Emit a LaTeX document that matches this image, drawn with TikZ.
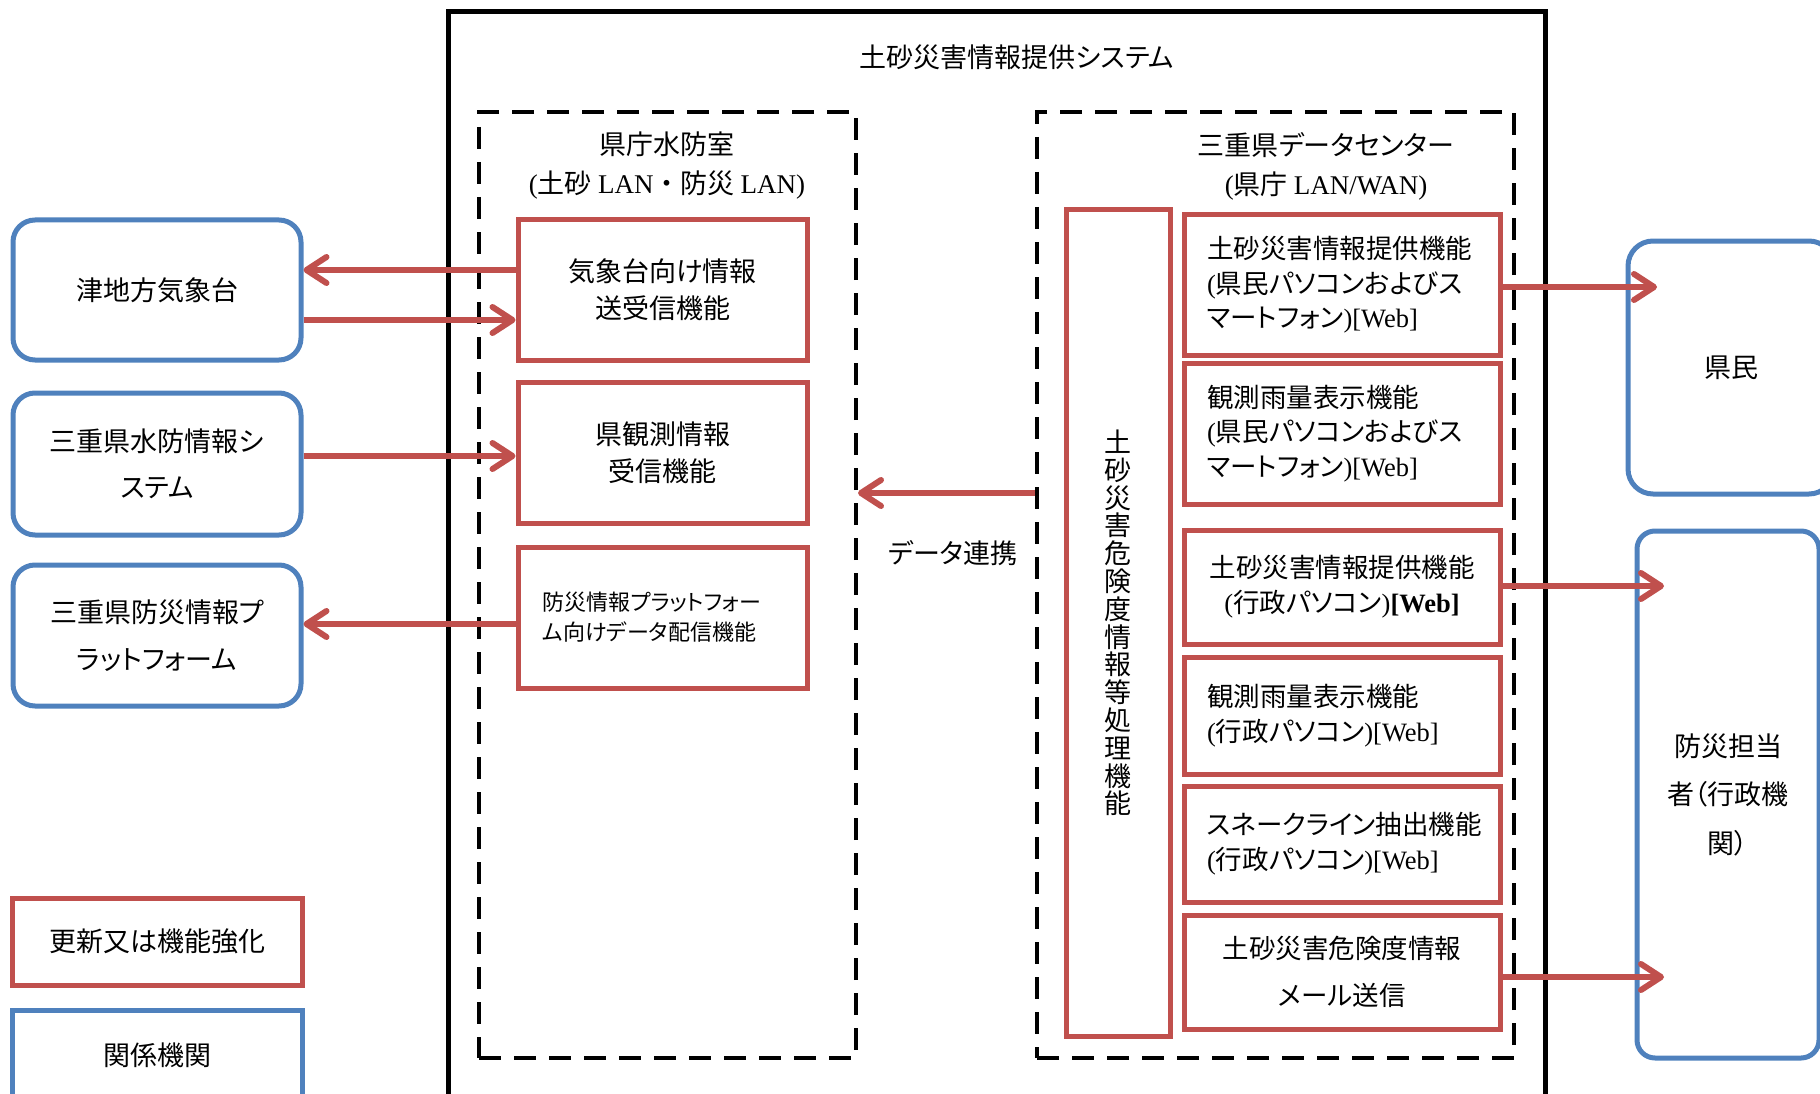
\documentclass[tikz,border=0pt]{standalone}
\usepackage{fontspec}
\setmainfont{Noto Sans CJK JP}[RawFeature=+palt]
\newfontfamily\jpn{Noto Sans CJK JP}
\newfontfamily\lt{Liberation Serif}
\usetikzlibrary{arrows.meta}
\definecolor{myred}{HTML}{C0504D}
\definecolor{myblue}{HTML}{4F81BD}
\newcommand\fsz[2]{\fontsize{#1}{#2}\selectfont}
\newcommand\lat[1]{{\lt #1}}
\begin{document}
\begin{tikzpicture}[x=1pt,y=-1pt,
  redbox/.style={draw=myred, line width=5pt, inner sep=0pt},
  bluebox/.style={draw=myblue, line width=5pt, inner sep=0pt, rounded corners=22pt},
  dbox/.style={draw=black, line width=4pt, dash pattern=on 22pt off 13pt, inner sep=0pt},
  arr/.style={draw=myred, line width=6pt, -{Straight Barb[length=20pt,width=26pt,round]}},
  txt/.style={font=\fsz{27}{37}, align=center},
]
\path[use as bounding box] (0,0) rectangle (1820,1094);
\clip (0,0) rectangle (1820,1094);

% outer system box
\node[draw=black, line width=5pt, inner sep=0pt, minimum width=1097pt, minimum height=1108pt] (sys) at (996.5,566) {};
\node[txt] (systitle) at (1017,57) {土砂災害情報提供システム};

% dashed containers
\node[dbox, minimum width=377pt, minimum height=946pt] (ld) at (667.5,585) {};
\node[txt, font=\fsz{27}{39}] (ldtitle) at (667,166) {県庁水防室\\\lat{(}土砂 \lat{LAN}{\jpn ・}防災 \lat{LAN)}};
\node[dbox, minimum width=477pt, minimum height=946pt] (rd) at (1275.5,585) {};
\node[txt, font=\fsz{27}{39}] (rdtitle) at (1326,166) {三重県データセンター\\\lat{(}県庁 \lat{LAN/WAN)}};

% left red boxes
\node[redbox, txt, minimum width=289pt, minimum height=140pt] (rb1) at (662.5,290) {気象台向け情報\\送受信機能};
\node[redbox, txt, minimum width=289pt, minimum height=141pt] (rb2) at (662.5,452.5) {県観測情報\\受信機能};
\node[redbox, minimum width=289pt, minimum height=141pt, font=\fsz{22}{30}, align=left, text width=240pt] (rb3) at (662.5,617.5) {防災情報プラットフォー\\ム向けデータ配信機能};

% left blue boxes
\node[bluebox, txt, minimum width=288pt, minimum height=140pt] (bl1) at (157,290) {津地方気象台};
\node[bluebox, txt, font=\fsz{27}{46}, minimum width=288pt, minimum height=142pt] (bl2) at (157,464) {三重県水防情報シ\\ステム};
\node[bluebox, txt, font=\fsz{27}{47}, minimum width=288pt, minimum height=141pt] (bl3) at (157,635.5) {三重県防災情報プ\\ラットフォーム};

% legend
\node[redbox, txt, minimum width=290pt, minimum height=87pt] (leg1) at (157,941.5) {更新又は機能強化};
\node[draw=myblue, line width=5pt, inner sep=0pt, txt, minimum width=290pt, minimum height=90pt] (leg2) at (157,1055) {関係機関};

% vertical processing box
\node[redbox, minimum width=104pt, minimum height=826pt] (vbox) at (1118,623) {};
\node[font=\fsz{27}{27.8}, align=center] (vtxt) at (vbox.center) {土\\砂\\災\\害\\危\\険\\度\\情\\報\\等\\処\\理\\機\\能};

% right red boxes
\node[redbox, font=\fsz{26.5}{34.5}, align=left, text width=270pt, minimum width=316pt, minimum height=140pt] (r1) at (1342,285) {土砂災害情報提供機能\\\lat{(}県民パソコンおよびス\\マートフォン\lat{)[Web]}};
\node[redbox, font=\fsz{26.5}{34.5}, align=left, text width=270pt, minimum width=316pt, minimum height=141pt] (r2) at (1342,433.5) {観測雨量表示機能\\\lat{(}県民パソコンおよびス\\マートフォン\lat{)[Web]}};
\node[redbox, font=\fsz{26.5}{35}, align=center, minimum width=316pt, minimum height=114pt] (r3) at (1342,587) {土砂災害情報提供機能\\\lat{(}行政パソコン\lat{)\bfseries[Web]}};
\node[redbox, font=\fsz{26.5}{35}, align=left, text width=270pt, minimum width=316pt, minimum height=117pt] (r4) at (1342,715.5) {観測雨量表示機能\\\lat{(}行政パソコン\lat{)[Web]}};
\node[redbox, font=\fsz{26.5}{35}, align=left, text width=270pt, minimum width=316pt, minimum height=116pt] (r5) at (1342,844) {スネークライン抽出機能\\\lat{(}行政パソコン\lat{)[Web]}};
\node[redbox, font=\fsz{26.5}{47}, align=center, minimum width=316pt, minimum height=114pt] (r6) at (1342,972) {土砂災害危険度情報\\メール送信};

% right blue boxes
\node[bluebox, rounded corners=25pt, txt, minimum width=206pt, minimum height=253pt] (kenmin) at (1731,367.5) {県民};
\node[bluebox, rounded corners=18pt, txt, font=\fsz{27}{48.5}, minimum width=182pt, minimum height=527pt] (bousai) at (1728,794.5) {防災担当\\者（行政機\\関）};

% label
\node[txt] (dlabel) at (953,553) {データ連携};

% arrow levels / free ends
\coordinate (ya) at (0,270);
\coordinate (yb) at (0,320);
\coordinate (yc) at (0,456);
\coordinate (yd) at (0,624);
\coordinate (ye) at (0,493);
\coordinate (yf) at (0,287);
\coordinate (tf) at (1657,287);
\coordinate (tg) at (1664,586);
\coordinate (th) at (1664,977);

% connectors
\draw[arr] (rb1.west |- ya) -- (bl1.east |- ya);
\draw[arr] (bl1.east |- yb) -- (rb1.west |- yb);
\draw[arr] (bl2.east |- yc) -- (rb2.west |- yc);
\draw[arr] (rb3.west |- yd) -- (bl3.east |- yd);
\draw[arr] (rd.west |- ye) -- (ld.east |- ye);
\draw[arr] (r1.east |- yf) -- (tf);
\draw[arr] (r3.east |- tg) -- (tg);
\draw[arr] (r6.east |- th) -- (th);
\end{tikzpicture}
\end{document}
